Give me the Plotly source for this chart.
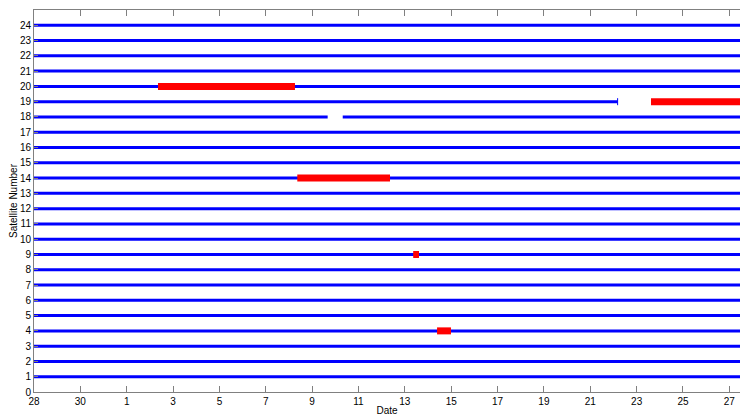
import plotly.graph_objects as go

# Days counted from Dec 28
tick_vals = list(range(0, 31, 2))
tick_text = ["28", "30", "1", "3", "5", "7", "9", "11", "13", "15", "17", "19", "21", "23", "25", "27"]
satellites = list(range(1, 25))
x_end = 30.46

# blue availability segments: (satellite, start_day, end_day)
avail_sat = [s for s in satellites if s not in (18, 19)] + [18, 18, 19]
avail_start = [0.0] * 22 + [0.0, 13.32, 0.0]
avail_end = [x_end] * 22 + [12.67, x_end, 25.18]

# red outage segments
out_sat = [20, 19, 14, 9, 4]
out_start = [5.35, 26.62, 11.36, 16.36, 17.39]
out_end = [11.26, x_end, 15.36, 16.61, 17.99]

fig = go.Figure()
for s, a, b in zip(avail_sat, avail_start, avail_end):
    fig.add_trace(go.Scatter(x=[a, b], y=[s, s], mode="lines",
                             line=dict(color="#0000ff", width=3), showlegend=False, hoverinfo="skip"))
# end marker on sat 19
fig.add_trace(go.Scatter(x=[25.18], y=[19], mode="markers",
                         marker=dict(symbol="line-ns", size=5, line=dict(color="#0000ff", width=1)),
                         showlegend=False))
for s, a, b in zip(out_sat, out_start, out_end):
    fig.add_trace(go.Scatter(x=[a, b], y=[s, s], mode="lines",
                             line=dict(color="#ff0000", width=7), showlegend=False, hoverinfo="skip"))

axis_font = dict(family="Liberation Sans, Arial, sans-serif", size=10, color="#000000")
fig.update_layout(
    width=740, height=416,
    margin=dict(l=34, r=0, t=10, b=24),
    plot_bgcolor="white", paper_bgcolor="white",
    font=axis_font,
    xaxis=dict(range=[0, x_end], tickvals=tick_vals, ticktext=tick_text,
               showgrid=False, zeroline=False, showline=True, linecolor="#808080", linewidth=1,
               mirror="ticks", ticks="inside", ticklen=6, tickcolor="#808080",
               title=dict(text="Date", standoff=0, font=dict(size=10)), tickfont=axis_font),
    yaxis=dict(range=[0, 25], tickvals=list(range(0, 25)),
               showgrid=False, zeroline=False, showline=True, linecolor="#808080", linewidth=1,
               mirror=False, ticks="inside", ticklen=4, tickcolor="#808080",
               title=dict(text="Satellite Number", standoff=0, font=dict(size=10)), tickfont=axis_font),
)
fig.write_html("out.html")
